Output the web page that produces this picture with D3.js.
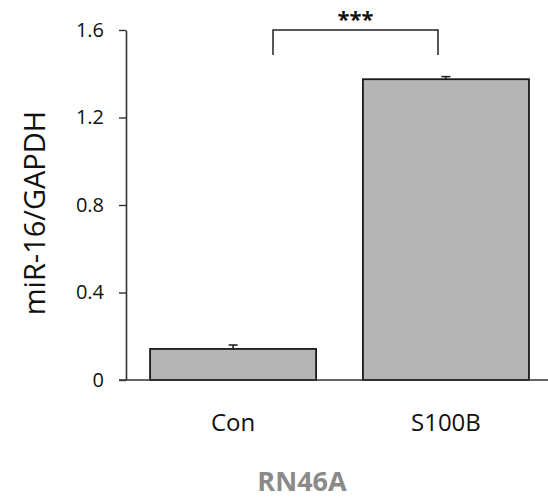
<!doctype html>
<html>
<head>
<meta charset="UTF-8">
<title>miR-16/GAPDH RN46A</title>
<script src="https://d3js.org/d3.v7.min.js"></script>
<style>
  body { margin: 0; background: #fff; }
  text { font-family: "Open Sans", sans-serif; fill: #111; }
</style>
</head>
<body>
<div id="chart"></div>
<script>
// data
var groups = ["Con", "S100B"];
var means = [0.142, 1.375];
var errs = [0.018, 0.012];
var yTicks = [0, 0.4, 0.8, 1.2, 1.6];
var tickLabels = ["0", "0.4", "0.8", "1.2", "1.6"];
var sigLabel = "***";
var cellLine = "RN46A";

var W = 548, H = 498;

var svg = d3.select("#chart")
    .append("svg")
    .attr("width", W)
    .attr("height", H);

var y = d3.scaleLinear().domain([0, 1.6]).range([380, 30]);

var x = d3.scaleBand()
    .domain(groups)
    .range([126, 553])
    .paddingInner(0.22)
    .paddingOuter(0.113);

// bars
svg.selectAll("rect.bar")
    .data(groups)
    .enter()
    .append("rect")
    .attr("class", "bar")
    .attr("x", function(d) { return x(d); })
    .attr("width", x.bandwidth())
    .attr("y", function(d, i) { return y(means[i]); })
    .attr("height", function(d, i) { return y(0) - y(means[i]); })
    .attr("fill", "#b5b5b5")
    .attr("stroke", "#1a1a1a")
    .attr("stroke-width", 1.8);

// error bars (upper only)
groups.forEach(function(g, i) {
    var cx = x(g) + x.bandwidth() / 2;
    svg.append("line")
        .attr("x1", cx).attr("x2", cx)
        .attr("y1", y(means[i])).attr("y2", y(means[i] + errs[i]))
        .attr("stroke", "#1a1a1a").attr("stroke-width", 1.5);
    svg.append("line")
        .attr("x1", cx - 4.5).attr("x2", cx + 4.5)
        .attr("y1", y(means[i] + errs[i])).attr("y2", y(means[i] + errs[i]))
        .attr("stroke", "#1a1a1a").attr("stroke-width", 1.5);
});

// y axis
var yAxis = d3.axisLeft(y)
    .tickValues(yTicks)
    .tickFormat(function(d, i) { return tickLabels[i]; })
    .tickSize(7)
    .tickSizeOuter(0)
    .tickPadding(15);

var ya = svg.append("g")
    .attr("transform", "translate(126,0)")
    .call(yAxis);
ya.attr("font-size", 20).attr("font-family", "'Open Sans', sans-serif");
ya.select(".domain").attr("stroke", "#333").attr("stroke-width", 1.6);
ya.selectAll(".tick line").attr("stroke", "#333").attr("stroke-width", 1.4);
ya.selectAll(".tick text")
    .style("font-size", "20px")
    .attr("fill", "#111");

// baseline
svg.append("line")
    .attr("x1", 119).attr("x2", 548)
    .attr("y1", y(0)).attr("y2", y(0))
    .attr("stroke", "#333").attr("stroke-width", 1.6);

// category labels
svg.selectAll("text.cat")
    .data(groups)
    .enter()
    .append("text")
    .attr("class", "cat")
    .attr("x", function(d) { return x(d) + x.bandwidth() / 2; })
    .attr("y", 431)
    .attr("text-anchor", "middle")
    .style("font-size", "24px")
    .text(function(d) { return d; });

// cell line label
svg.append("text")
    .attr("x", 302)
    .attr("y", 491)
    .attr("text-anchor", "middle")
    .style("font-size", "27px")
    .attr("font-weight", "bold")
    .style("fill", "#8a8a8a")
    .text(cellLine);

// y title
svg.append("text")
    .attr("transform", "translate(45,213) rotate(-90)")
    .attr("text-anchor", "middle")
    .style("font-size", "29px")
    .text("miR-16/GAPDH");

// significance bracket
var bx1 = 273, bx2 = 438;
svg.append("path")
    .attr("d", "M" + bx1 + ",55V30H" + bx2 + "V55")
    .attr("fill", "none")
    .attr("stroke", "#222")
    .attr("stroke-width", 1.5);
svg.append("text")
    .attr("x", (bx1 + bx2) / 2)
    .attr("y", 27)
    .attr("text-anchor", "middle")
    .style("font-size", "22px")
    .attr("font-weight", "bold")
    .text(sigLabel);
</script>
</body>
</html>
